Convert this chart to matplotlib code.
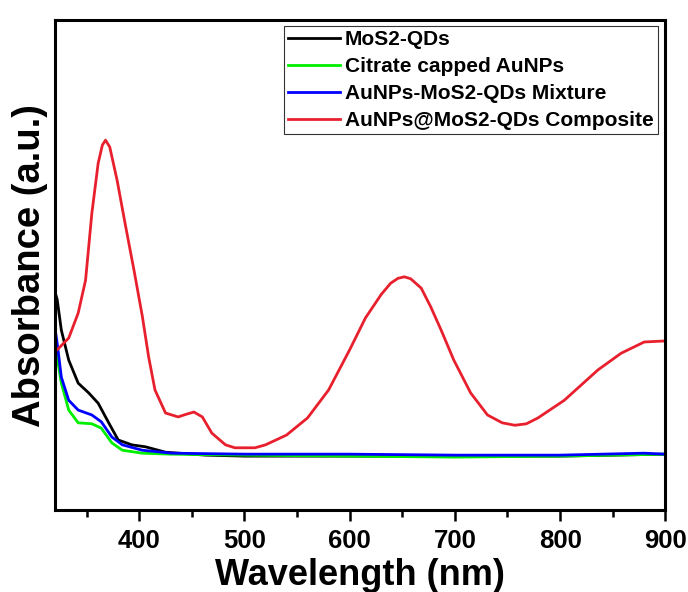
import numpy as np
import matplotlib.pyplot as plt
from matplotlib.ticker import MultipleLocator

plt.rcParams['font.family'] = ['Liberation Sans', 'DejaVu Sans']
plt.rcParams['font.weight'] = 'bold'

# values (absorbance in arbitrary units)
wl_mos2 = [320, 322, 326, 333, 342, 352, 361, 371, 380, 393, 406, 425, 463, 500, 600, 700, 800, 900]
abs_mos2 = [0.445, 0.430, 0.367, 0.306, 0.259, 0.239, 0.218, 0.178, 0.143, 0.133, 0.129, 0.118, 0.112,
            0.110, 0.110, 0.110, 0.110, 0.114]

wl_citrate = [320, 322, 326, 333, 342, 355, 364, 374, 384, 403, 430, 500, 600, 700, 800, 900]
abs_citrate = [0.335, 0.312, 0.259, 0.204, 0.178, 0.176, 0.167, 0.137, 0.122, 0.116, 0.114,
               0.112, 0.110, 0.108, 0.110, 0.114]

wl_mix = [320, 322, 326, 333, 342, 355, 364, 374, 384, 403, 431, 500, 600, 700, 800, 880, 900]
abs_mix = [0.370, 0.341, 0.271, 0.224, 0.204, 0.194, 0.180, 0.149, 0.133, 0.122, 0.116,
           0.114, 0.114, 0.112, 0.112, 0.116, 0.114]

wl_comp = [320, 322, 333, 342, 349, 355, 361, 365, 368, 372, 379, 387, 391, 395, 403, 409, 415, 425, 437,
           444, 452, 460, 469, 482, 491, 500, 510, 520, 540, 560, 580, 600, 615, 630, 639, 646, 652,
           658, 668, 677, 687, 699, 715, 731, 745, 757, 768, 779, 804, 836, 858, 880, 899, 900]
abs_comp = [0.325, 0.327, 0.351, 0.402, 0.469, 0.606, 0.708, 0.745, 0.755, 0.741, 0.673, 0.580, 0.535,
            0.490, 0.395, 0.312, 0.245, 0.198, 0.190, 0.195, 0.200, 0.190, 0.157, 0.133, 0.127, 0.127,
            0.127, 0.133, 0.153, 0.188, 0.245, 0.327, 0.392, 0.440, 0.463, 0.473, 0.476, 0.472, 0.453,
            0.415, 0.367, 0.306, 0.239, 0.194, 0.178, 0.173, 0.176, 0.188, 0.224, 0.286, 0.320, 0.343,
            0.345, 0.345]

fig = plt.figure(figsize=(6.88, 5.92), dpi=100)
ax = fig.add_axes([0.080, 0.1385, 0.887, 0.8275])

ax.plot(wl_mos2, abs_mos2, color='black', lw=2, label='MoS2-QDs')
ax.plot(wl_citrate, abs_citrate, color='#00ee00', lw=2, label='Citrate capped AuNPs')
ax.plot(wl_mix, abs_mix, color='#0000ff', lw=2, label='AuNPs-MoS2-QDs Mixture')
ax.plot(wl_comp, abs_comp, color='#e8202e', lw=2, label='AuNPs@MoS2-QDs Composite')

ax.set_xlim(320, 900)
ax.set_ylim(0, 1)
ax.xaxis.set_major_locator(MultipleLocator(100))
ax.xaxis.set_minor_locator(MultipleLocator(50))
ax.set_yticks([])
ax.tick_params(axis='x', which='both', direction='out', width=1.8, labelsize=18.5, pad=6)
ax.tick_params(axis='x', which='major', length=8)
ax.tick_params(axis='x', which='minor', length=5)
for s in ax.spines.values():
    s.set_linewidth(2.2)

ax.set_xlabel('Wavelength (nm)', fontsize=26, fontweight='bold', labelpad=3)
ax.set_ylabel('Absorbance (a.u.)', fontsize=27.5, fontweight='bold', labelpad=5)

leg = ax.legend(loc='upper right', bbox_to_anchor=(0.988, 0.988), fontsize=15, frameon=True,
                fancybox=False, edgecolor='black', handlelength=2.5, labelspacing=0.38,
                borderpad=0.2, handletextpad=0.25, borderaxespad=0)
leg.get_frame().set_linewidth(0.8)

fig.savefig('out.png', dpi=100)
